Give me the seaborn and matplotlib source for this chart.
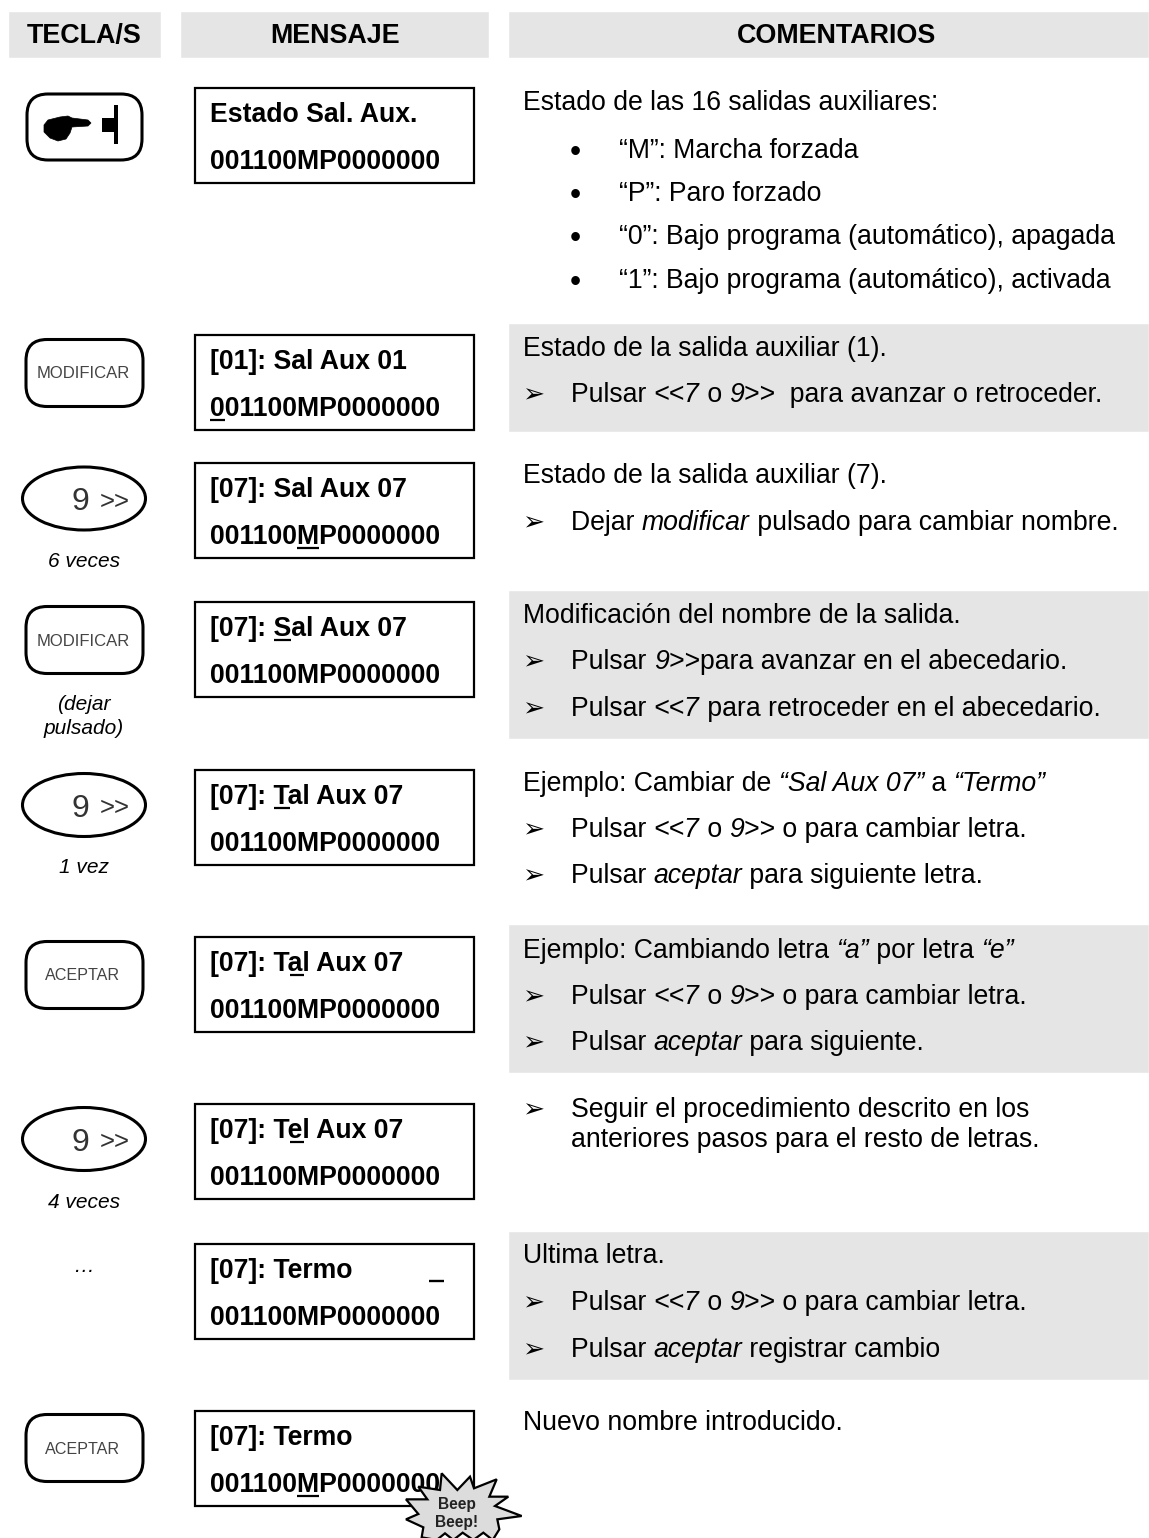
import matplotlib
matplotlib.use("Agg")
import matplotlib.pyplot as plt
from matplotlib.patches import Ellipse, FancyBboxPatch, Polygon, Rectangle
import seaborn as sns

#%% TEXTS
HEADERS = ["TECLA/S", "MENSAJE", "COMENTARIOS"]

LCD_LINE1 = ["Estado Sal. Aux.", "[01]: Sal Aux 01", "[07]: Sal Aux 07", "[07]: Sal Aux 07",
             "[07]: Tal Aux 07", "[07]: Tal Aux 07", "[07]: Tel Aux 07", "[07]: Termo", "[07]: Termo"]
LCD_LINE2 = "001100MP0000000"
# (row, line, first char) of the underlined character
LCD_UNDERLINE = [(1, 1, 0), (2, 1, 6), (3, 0, 6), (4, 0, 6), (5, 0, 7), (6, 0, 7), (8, 1, 6)]

KEYS = ["hand", "MODIFICAR", "9", "MODIFICAR", "9", "ACEPTAR", "9", None, "ACEPTAR"]
KEY_NOTES = ["", "", "6 veces", "(dejar", "1 vez", "", "4 veces", "…", ""]
KEY_NOTES_2 = ["", "", "", "pulsado)", "", "", "", "", ""]

# kind: t plain, b bullet, a arrow, c continuation. *...* marks italics
COMMENT_KIND = ["t", "b", "b", "b", "b",
                "t", "a",
                "t", "a",
                "t", "a", "a",
                "t", "a", "a",
                "t", "a", "a",
                "a", "c",
                "t", "a", "a",
                "t"]
COMMENTS = ["Estado de las 16 salidas auxiliares:",
            "“M”: Marcha forzada",
            "“P”: Paro forzado",
            "“0”: Bajo programa (automático), apagada",
            "“1”: Bajo programa (automático), activada",
            "Estado de la salida auxiliar (1).",
            "Pulsar *<<7* o *9>>*  para avanzar o retroceder.",
            "Estado de la salida auxiliar (7).",
            "Dejar *modificar* pulsado para cambiar nombre.",
            "Modificación del nombre de la salida.",
            "Pulsar *9>>*para avanzar en el abecedario.",
            "Pulsar *<<7* para retroceder en el abecedario.",
            "Ejemplo: Cambiar de *“Sal Aux 07”* a *“Termo”*",
            "Pulsar *<<7* o *9>>* o para cambiar letra.",
            "Pulsar *aceptar* para siguiente letra.",
            "Ejemplo: Cambiando letra *“a”* por letra *“e”*",
            "Pulsar *<<7* o *9>>* o para cambiar letra.",
            "Pulsar *aceptar* para siguiente.",
            "Seguir el procedimiento descrito en los",
            "anteriores pasos para el resto de letras.",
            "Ultima letra.",
            "Pulsar *<<7* o *9>>* o para cambiar letra.",
            "Pulsar *aceptar* registrar cambio",
            "Nuevo nombre introducido."]

#%% LAYOUT (pixels of the page)
COMMENT_Y = [110, 158, 201, 244, 288, 356, 402, 483, 530, 623, 669, 716, 791, 837, 883,
             958, 1004, 1050, 1117, 1147, 1263, 1310, 1357, 1430]
LCD_TOP = [88, 335, 463, 602, 770, 937, 1104, 1244, 1411]
KEY_CY = [127, 373, 498.5, 640, 805, 975, 1139, None, 1448]
NOTE_Y = [None, None, 567, 710, 873, None, 1208, 1272, None]
HEADER_LEFT = [7.5, 180, 508]
HEADER_RIGHT = [161, 489, 1149]
HEADER_CX = [84, 335, 836]
BAND_TOP = [323, 590, 924, 1231]
BAND_BOTTOM = [432, 739, 1073, 1380]
GREY = "#e5e5e5"
SIZE = 19.2

sns.set_theme(style="white")
plt.rcParams["font.family"] = ["Liberation Sans", "DejaVu Sans"]

fig, ax = plt.subplots(figsize=(11.49, 15.38), dpi=100)
fig.subplots_adjust(0, 0, 1, 1)


def grey_band(left, right, top, bottom):
    sns.barplot(x=[right - left], y=[(top + bottom) / 2], orient="y", native_scale=True,
                width=bottom - top, left=left, color=GREY, saturation=1, ax=ax)


for l, r in zip(HEADER_LEFT, HEADER_RIGHT):
    grey_band(l, r, 11, 58)
for t, b in zip(BAND_TOP, BAND_BOTTOM):
    grey_band(508, 1149, t, b)

ax.set_xlim(0, 1149)
ax.set_ylim(1538, 0)
sns.despine(ax=ax, left=True, bottom=True)
ax.axis("off")
renderer = fig.canvas.get_renderer()


def text_width(s, **kws):
    # trailing spaces are not measured, so wrap the string in two letters
    a = ax.text(0, 0, "x" + s + "x", **kws)
    b = ax.text(0, 0, "xx", **kws)
    w = a.get_window_extent(renderer).width - b.get_window_extent(renderer).width
    a.remove()
    b.remove()
    return w


def rich_text(x, y, s):
    parts = s.split("*")
    for i, part in enumerate(parts):
        if part == "":
            continue
        style = "italic" if i % 2 else "normal"
        kws = dict(fontsize=SIZE, fontstyle=style, color="black")
        ax.text(x, y, part, va="baseline", ha="left", **kws)
        x += text_width(part, **kws)


def rounded_key(cy, x0=26, x1=143, h=67):
    ax.add_patch(FancyBboxPatch((x0, cy - h / 2), x1 - x0, h, boxstyle="round,pad=0,rounding_size=21",
                                fc="white", ec="black", lw=2.2, zorder=3))


#%% HEADERS
for name, cx in zip(HEADERS, HEADER_CX):
    ax.text(cx, 43, name, ha="center", va="baseline", fontsize=19.4, fontweight="bold", color="black")

#%% KEY COLUMN
for key, cy, note, note2, ny in zip(KEYS, KEY_CY, KEY_NOTES, KEY_NOTES_2, NOTE_Y):
    if key == "hand":
        rounded_key(cy, 27, 142, 66)
        ax.add_patch(Polygon([(44, 125), (48, 120), (60, 117), (68, 116), (72, 118), (88, 120), (91, 123),
                              (88, 126), (72, 127), (70, 133), (66, 139), (58, 141), (50, 138), (44, 132)],
                             fc="black", ec="black", lw=0.5, zorder=4))
        ax.add_patch(Rectangle((102, 118), 13, 14, fc="black", ec="none", zorder=4))
        ax.add_patch(Rectangle((114, 105), 3.5, 39, fc="black", ec="none", zorder=4))
    elif key == "9":
        ax.add_patch(Ellipse((84, cy), 123, 63, fc="white", ec="black", lw=2.2, zorder=3))
        ax.text(80, cy + 12, "9", ha="center", va="baseline", fontsize=23, color="#333333", zorder=4)
        ax.text(115, cy + 10, ">>", ha="center", va="baseline", fontsize=18.5, color="#333333", zorder=4)
    elif key is not None:
        rounded_key(cy)
        ax.text(83, cy + 1, key, ha="center", va="center", fontsize=12 if key == "MODIFICAR" else 11.6,
                color="#444444", zorder=4)
    if note:
        ax.text(84, ny, note, ha="center", va="baseline", fontsize=15, fontstyle="italic", color="black")
    if note2:
        ax.text(84, ny + 24, note2, ha="center", va="baseline", fontsize=15, fontstyle="italic", color="black")

#%% MESSAGE COLUMN
lcd_kws = dict(fontsize=SIZE, fontweight="bold", color="black")
for i, (line1, top) in enumerate(zip(LCD_LINE1, LCD_TOP)):
    ax.add_patch(Rectangle((195, top), 279, 95, fc="white", ec="black", lw=1.6, zorder=2))
    ax.text(210, top + 34, line1, va="baseline", zorder=3, **lcd_kws)
    ax.text(210, top + 81, LCD_LINE2, va="baseline", zorder=3, **lcd_kws)
for row, line, pos in LCD_UNDERLINE:
    s = LCD_LINE2 if line else LCD_LINE1[row]
    y = LCD_TOP[row] + (84.5 if line else 37.5)
    x0 = 210 + text_width(s[:pos], **lcd_kws)
    x1 = x0 + text_width(s[pos], **lcd_kws)
    ax.plot([x0, x1], [y, y], color="black", lw=1.6, solid_capstyle="butt", zorder=3)
# cursor of the last letter
ax.plot([429, 444], [1281, 1281], color="black", lw=1.7, solid_capstyle="butt", zorder=3)

#%% COMMENT COLUMN
for kind, s, y in zip(COMMENT_KIND, COMMENTS, COMMENT_Y):
    if kind == "t":
        rich_text(523, y, s)
    elif kind == "b":
        ax.text(575, y + 3, "•", ha="center", va="baseline", fontsize=23, color="black")
        rich_text(619, y, s)
    else:
        if kind == "a":
            ax.text(522, y, "➢", ha="left", va="baseline", fontsize=19, color="black",
                    family="DejaVu Sans")
        rich_text(571, y, s)

#%% BEEP STAR
star = [(305, 100), (352, 150), (390, 110), (402, 145), (470, 118), (448, 170), (505, 170), (465, 198),
        (545, 228), (472, 238), (478, 268), (458, 300), (430, 278), (400, 300), (368, 278), (340, 300),
        (315, 280), (290, 300), (245, 292), (250, 262), (198, 238), (235, 222), (198, 178), (262, 178),
        (235, 140), (300, 150)]
ax.add_patch(Polygon([(340 + px / 3, 1440 + py / 3) for px, py in star], fc="#dcdcdc", ec="black",
                     lw=1.6, zorder=5))
for word, y in zip(["Beep", "Beep!"], [1509, 1527]):
    ax.text(456.5, y, word, ha="center", va="baseline", fontsize=11.2, fontweight="bold",
            color="#222222", zorder=6)

plt.savefig("out.png", dpi=100)
